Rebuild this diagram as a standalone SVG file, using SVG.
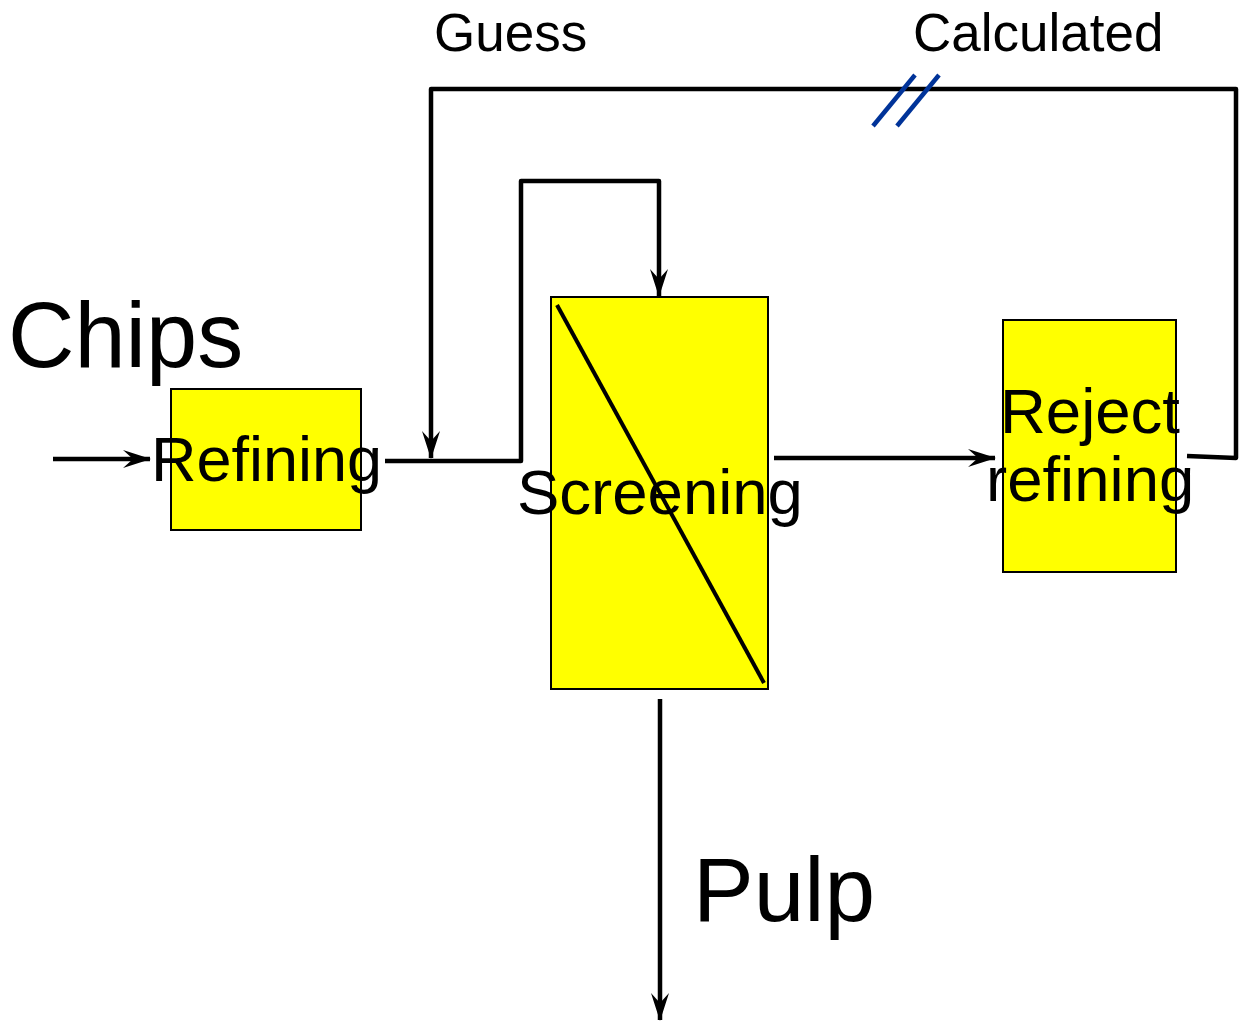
<svg xmlns="http://www.w3.org/2000/svg" width="1241" height="1022" viewBox="0 0 1241 1022">
  <style>
    .box { fill: #ffff00; stroke: #000; stroke-width: 2; }
    .flow { fill: none; stroke: #000; stroke-width: 4.5; stroke-linejoin: round; }
    .lbl { font-family: "Liberation Sans", Arial, sans-serif; fill: #000; }
    .hash { stroke: #003399; stroke-width: 4.5; }
  </style>
  <defs>
    <marker id="arrow" markerUnits="userSpaceOnUse" markerWidth="30" markerHeight="20" refX="27" refY="10" orient="auto">
      <path d="M0,1 L28,10 L0,19 L10,10 Z" fill="#000"/>
    </marker>
  </defs>

  <!-- free labels -->
  <text class="lbl" x="8" y="367" font-size="92">Chips</text>
  <text class="lbl" x="693" y="921" font-size="91">Pulp</text>
  <text class="lbl" x="434" y="51" font-size="53">Guess</text>
  <text class="lbl" x="913" y="51" font-size="53">Calculated</text>

  <!-- process units -->
  <g id="refining">
    <rect class="box" x="171" y="389" width="190" height="141"/>
    <text class="lbl" x="151" y="481" font-size="63">Refining</text>
  </g>

  <g id="screening">
    <rect class="box" x="551" y="297" width="217" height="392"/>
    <line x1="557" y1="305" x2="764" y2="683" stroke="#000" stroke-width="4"/>
    <text class="lbl" x="517" y="514" font-size="63.5">Screening</text>
  </g>

  <g id="reject-refining">
    <rect class="box" x="1003" y="320" width="173" height="252"/>
    <text class="lbl" x="1000" y="433" font-size="63.5">Reject</text>
    <text class="lbl" x="986" y="501" font-size="63.5">refining</text>
  </g>

  <!-- streams -->
  <g id="connectors">
    <!-- chips feed -->
    <line class="flow" x1="53" y1="459" x2="150" y2="459" marker-end="url(#arrow)"/>
    <!-- refiner discharge to screen inlet -->
    <polyline class="flow" points="385,461 521,461 521,181 659,181 659,296" marker-end="url(#arrow)"/>
    <!-- screen rejects to reject refiner -->
    <line class="flow" x1="774" y1="458" x2="995" y2="458" marker-end="url(#arrow)"/>
    <!-- recycle from reject refiner back to screen feed -->
    <polyline class="flow" points="1187,456 1236,458 1236,89 431,89 431,458" marker-end="url(#arrow)"/>
    <!-- accepts to pulp -->
    <line class="flow" x1="660" y1="699" x2="660" y2="1020" marker-end="url(#arrow)"/>
    <!-- tear stream mark -->
    <line class="hash" x1="873" y1="126" x2="915" y2="75"/>
    <line class="hash" x1="897" y1="126" x2="939" y2="75"/>
  </g>
</svg>
